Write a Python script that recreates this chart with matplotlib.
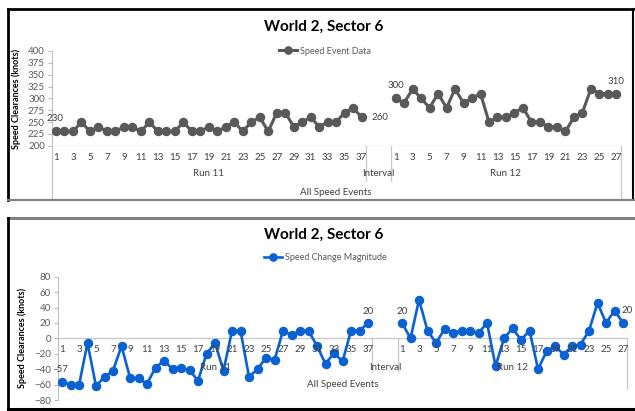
import numpy as np
import matplotlib.pyplot as plt
from matplotlib import transforms
from matplotlib.lines import Line2D

plt.rcParams['font.family'] = ['Lato', 'DejaVu Sans']

W, H = 635, 411

# speed clearance per event (knots)
run11_speed = [230, 230, 230, 250, 230, 240, 230, 230, 240, 240, 230, 250, 230, 230, 230, 250, 230, 230, 240,
               230, 240, 250, 230, 250, 260, 230, 270, 270, 240, 250, 260, 240, 250, 250, 270, 280, 260]
run12_speed = [300, 290, 320, 300, 280, 310, 280, 320, 290, 300, 310, 250, 260, 260, 270, 280, 250, 250, 240,
               240, 230, 260, 270, 320, 310, 310, 310]

# change magnitude per event (knots)
run11_change = [-57, -60, -61, -6, -62, -50, -42, -10, -51, -52, -59, -38, -29, -40, -39, -41, -55, -20, -6,
                -42, 10, 10, -50, -40, -25, -28, 10, 4, 10, 10, -10, -33, -19, -30, 10, 10, 20]
run12_change = [20, 0, 50, 10, -6, 12, 7, 10, 10, 7, 20, -36, 0, 13, -2, 10, -40, -17, -10, -21, -10, -8,
                10, 46, 20, 36, 20]

interval_len = 3
group_names = ['Run 11', 'Interval', 'Run 12']
outer_name = 'All Speed Events'
title = 'World 2, Sector 6'

n11, n12 = len(run11_speed), len(run12_speed)
start12 = n11 + interval_len
n_all = start12 + n12
xs = np.arange(n_all)


def fy(py):
    return 1 - py / H


def series(a, b):
    return np.array(list(a) + [np.nan] * interval_len + list(b), dtype=float)


fig = plt.figure(figsize=(W / 100, H / 100), dpi=100)
fig.patch.set_facecolor('white')

# panel frames
def fline(x0, y0, x1, y1, color, lw):
    fig.add_artist(Line2D([x0 / W, x1 / W], [fy(y0), fy(y1)], color=color, lw=lw,
                          transform=fig.transFigure))

fline(8, 9, 635, 9, 'black', 2)
fline(8, 9, 8, 200, 'black', 2)
fline(633, 9, 633, 200, 'black', 1.5)
fline(8, 200, 635, 200, '#808080', 1.5)
fline(8, 218, 635, 218, '#808080', 2.2)
fline(8, 218, 8, 409, 'black', 2)
fline(8, 409, 635, 409, 'black', 2.2)


def draw_chart(rect, vals, color, lw, ms, ylim, yticks, base, lbl, ly,
               title_y, legend_label, legend_y, ylabel_x, ylabel_y,
               tick_y, group_y, outer_y, div_bottom, edge_bottom, labels):
    ax = fig.add_axes(rect)
    ax.set_xlim(-0.5, n_all - 0.5)
    ax.set_ylim(*ylim)
    ax.patch.set_alpha(0)
    for s in ['top', 'right', 'bottom']:
        ax.spines[s].set_visible(False)
    ax.spines['left'].set_color('#bfbfbf')
    ax.spines['left'].set_linewidth(0.8)
    ax.set_xticks([])
    ax.set_yticks(yticks)
    ax.tick_params(axis='y', length=3, width=0.8, color='#bfbfbf', labelsize=7,
                   labelcolor='#595959', pad=2)

    ax.axhline(base, color='#c8c8c8', lw=0.9, zorder=1)
    line, = ax.plot(xs, vals, color=color, lw=lw, marker='o', ms=ms, zorder=3,
                    label=legend_label)

    tr = transforms.blended_transform_factory(ax.transData, fig.transFigure)
    # category tick labels, every other event
    for i in range(1, n11 + 1, 2):
        ax.text(i - 1, fy(tick_y), str(i), transform=tr, ha='center', va='center',
                fontsize=7, color='#404040')
    for j in range(1, n12 + 1, 2):
        ax.text(start12 + j - 1, fy(tick_y), str(j), transform=tr, ha='center',
                va='center', fontsize=7, color='#404040')
    # group labels
    centers = [(n11 - 1) / 2, n11 + (interval_len - 1) / 2, start12 + (n12 - 1) / 2]
    for c, name in zip(centers, group_names):
        ax.text(c, fy(group_y), name, transform=tr, ha='center', va='center',
                fontsize=7, color='#404040')
    ax.text((n_all - 1) / 2, fy(outer_y), outer_name, transform=tr, ha='center',
            va='center', fontsize=7, color='#404040')
    # group dividers
    top_px = ly
    for xd in [n11 - 0.5, start12 - 0.5]:
        ax.plot([xd, xd], [fy(top_px), fy(div_bottom)], transform=tr, color='#c8c8c8',
                lw=0.9, clip_on=False)
    ax.plot([n_all - 0.5] * 2, [fy(top_px), fy(edge_bottom)], transform=tr,
            color='#c8c8c8', lw=0.9, clip_on=False)
    ax.plot([-0.5] * 2, [fy(top_px), fy(edge_bottom)], transform=tr,
            color='#bfbfbf', lw=0.8, clip_on=False)

    # data labels
    for idx, dx, dy in labels:
        ax.annotate(f'{vals[idx]:.0f}', (xs[idx], vals[idx]), xytext=(dx, dy),
                    textcoords='offset points', ha='center', va='center',
                    fontsize=7, color='#404040', annotation_clip=False)

    ax.set_ylabel('Speed Clearances (knots)', fontsize=6.5, fontweight='bold',
                  color='black')
    ax.yaxis.set_label_coords(ylabel_x, ylabel_y, transform=fig.transFigure)

    fig.text(324 / W, fy(title_y), title, ha='center', va='center', fontsize=11,
             fontweight='bold', color='black')
    fig.legend(handles=[line], loc='center', bbox_to_anchor=(325 / W, fy(legend_y)),
               frameon=False, fontsize=6.5, handlelength=2.0, handletextpad=0.3,
               labelcolor='#595959', markerscale=0.9)
    return ax


# top chart: raw speed values
speed = series(run11_speed, run12_speed)
draw_chart([51.75 / W, fy(145.7), (620.6 - 51.75) / W, 94.7 / H], speed, '#595959', 2.2, 5.8,
           (200, 400), np.arange(200, 401, 25), 200, None, 145.7,
           27, 'Speed Event Data', 51, 21 / W, fy(99),
           157, 174, 192, 181, 198,
           [(0, -1, 9), (n11 - 1, 13, 0), (start12, 0, 9), (n_all - 1, 0, 9)])

# bottom chart: change magnitude
change = series(run11_change, run12_change)
draw_chart([57.75 / W, fy(400), (627.3 - 57.75) / W, 123.3 / H], change, '#0a62d2', 1.9, 5.8,
           (-80, 80), np.arange(-80, 81, 20), 0, None, 338,
           235, 'Speed Change Magnitude', 258, 27 / W, fy(338),
           350, 367, 384, 372, 389,
           [(0, -1, 9), (n11 - 1, 0, 8.5), (start12, 0, 8.5), (n_all - 1, 3, 9)])

fig.savefig('out.png', dpi=100)
